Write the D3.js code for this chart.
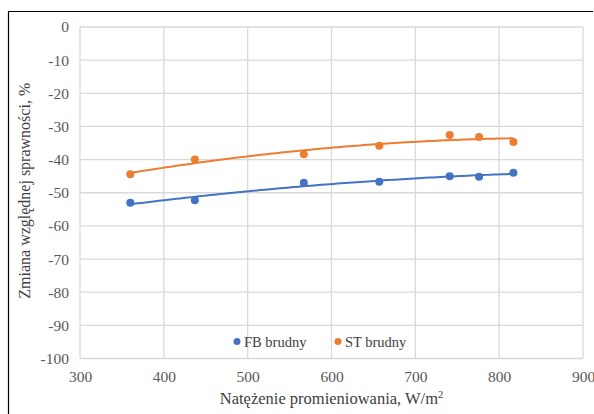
<!DOCTYPE html>
<html>
<head>
<meta charset="utf-8">
<script src="https://cdn.jsdelivr.net/npm/d3@7"></script>
<style>
  html, body { margin: 0; padding: 0; background: #fff; }
  svg { display: block; }
</style>
</head>
<body>
<svg id="chart" width="594" height="414"></svg>
<script>
const irradiance = [360, 437, 567, 657, 741, 776, 817];
const fbBrudny = [-53.0, -52.3, -47.0, -46.7, -45.0, -45.2, -44.0];
const stBrudny = [-44.4, -40.0, -38.4, -35.8, -32.6, -33.2, -34.7];
const seriesNames = ["FB brudny", "ST brudny"];
const seriesColors = ["#4472C4", "#ED7D31"];
const xTicks = [300, 400, 500, 600, 700, 800, 900];
const yTicks = [0, -10, -20, -30, -40, -50, -60, -70, -80, -90, -100];
const xTitle = "Natężenie promieniowania, W/m";
const yTitle = "Zmiana względnej sprawności, %";

const FONT = "'Liberation Serif'";
const svg = d3.select("#chart");
const W = 594, H = 414;
const m = { left: 80, top: 27, right: 583, bottom: 358.5 };

// frame (left + top visible)
svg.append("line").attr("x1", 8.5).attr("x2", 8.5).attr("y1", 11).attr("y2", H).attr("stroke", "#000").attr("stroke-width", 1.2);
svg.append("line").attr("x1", 8).attr("x2", 593).attr("y1", 11.5).attr("y2", 11.5).attr("stroke", "#000").attr("stroke-width", 1.2);

const x = d3.scaleLinear().domain([300, 900]).range([m.left, m.right]);
const y = d3.scaleLinear().domain([-100, 0]).range([m.bottom, m.top]);

const grid = svg.append("g");
xTicks.forEach(t => grid.append("line")
  .attr("x1", x(t)).attr("x2", x(t)).attr("y1", m.top).attr("y2", m.bottom)
  .attr("stroke", "#d9d9d9").attr("stroke-width", 1.3));
yTicks.forEach(t => grid.append("line")
  .attr("x1", m.left).attr("x2", m.right).attr("y1", y(t)).attr("y2", y(t))
  .attr("stroke", "#d9d9d9").attr("stroke-width", 1.3));

const xAxis = svg.append("g").attr("transform", `translate(0,${m.bottom})`)
  .call(d3.axisBottom(x).tickValues(xTicks).tickSize(0).tickPadding(12));
xAxis.select(".domain").remove();
xAxis.selectAll("text").style("font-family", FONT).style("font-size", "15.5px").attr("fill", "#595959");

const yAxis = svg.append("g").attr("transform", `translate(${m.left},0)`)
  .call(d3.axisLeft(y).tickValues(yTicks).tickSize(0).tickPadding(11).tickFormat(d => String(d)));
yAxis.select(".domain").remove();
yAxis.selectAll("text").style("font-family", FONT).style("font-size", "15.5px").attr("fill", "#595959");

// quadratic least-squares trendline
function quadFit(xs, ys) {
  let s = [0,0,0,0,0], t = [0,0,0];
  xs.forEach((xv, i) => {
    for (let k = 0; k < 5; k++) s[k] += Math.pow(xv, k);
    for (let k = 0; k < 3; k++) t[k] += ys[i] * Math.pow(xv, k);
  });
  const A = [[s[0], s[1], s[2], t[0]], [s[1], s[2], s[3], t[1]], [s[2], s[3], s[4], t[2]]];
  for (let i = 0; i < 3; i++) {
    for (let j = i + 1; j < 3; j++) {
      const f = A[j][i] / A[i][i];
      for (let k = i; k < 4; k++) A[j][k] -= f * A[i][k];
    }
  }
  const c = [0,0,0];
  for (let i = 2; i >= 0; i--) {
    let v = A[i][3];
    for (let k = i + 1; k < 3; k++) v -= A[i][k] * c[k];
    c[i] = v / A[i][i];
  }
  return xv => c[0] + c[1] * xv + c[2] * xv * xv;
}

const data = [fbBrudny, stBrudny];
const line = d3.line().x(d => x(d[0])).y(d => y(d[1]));
data.forEach((vals, si) => {
  const f = quadFit(irradiance, vals);
  const x0 = d3.min(irradiance), x1 = d3.max(irradiance);
  const pts = d3.range(0, 101).map(i => { const xv = x0 + (x1 - x0) * i / 100; return [xv, f(xv)]; });
  svg.append("path").attr("d", line(pts)).attr("fill", "none")
    .attr("stroke", seriesColors[si]).attr("stroke-width", 2);
});
data.forEach((vals, si) => {
  svg.append("g").selectAll("circle").data(vals).join("circle")
    .attr("cx", (d, i) => x(irradiance[i])).attr("cy", d => y(d))
    .attr("r", 4).attr("fill", seriesColors[si]);
});

// legend
const legendX = [237, 338];
seriesNames.forEach((n, i) => {
  svg.append("circle").attr("cx", legendX[i]).attr("cy", 341.5).attr("r", 3.5).attr("fill", seriesColors[i]);
  svg.append("text").attr("x", legendX[i] + 7).attr("y", 346.5)
    .style("font-family", FONT).style("font-size", "14.5px").attr("fill", "#404040").text(n);
});

// axis titles
const xt = svg.append("text").attr("x", (m.left + m.right) / 2).attr("y", 404)
  .attr("text-anchor", "middle").style("font-family", FONT).style("font-size", "16.5px").attr("fill", "#404040");
xt.append("tspan").text(xTitle);
xt.append("tspan").attr("dy", -6).style("font-size", "10.5px").text("2");

svg.append("text").attr("transform", `translate(30,${(m.top + m.bottom) / 2 - 2}) rotate(-90)`)
  .attr("text-anchor", "middle").style("font-family", FONT).style("font-size", "16px").attr("fill", "#404040")
  .text(yTitle);
</script>
</body>
</html>
